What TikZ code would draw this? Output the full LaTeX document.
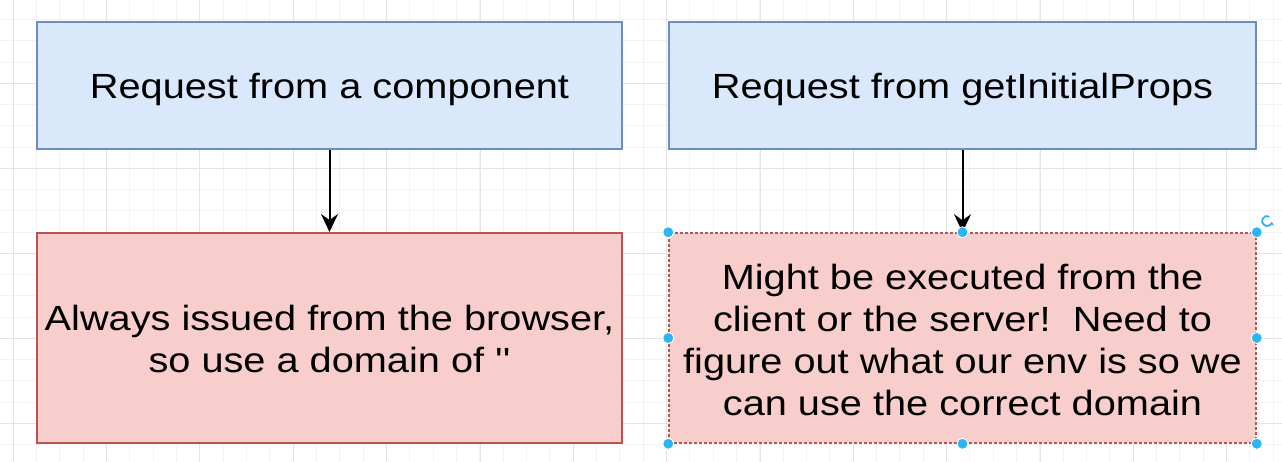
\documentclass[tikz,border=0pt]{standalone}
\usepackage{fontspec}
\setmainfont{Liberation Sans}
\newfontfamily\boxfont[FakeStretch=1.135]{Liberation Sans}
\usetikzlibrary{arrows.meta}
\definecolor{bluefill}{HTML}{DAE8FC}
\definecolor{blueline}{HTML}{6C8EBF}
\definecolor{redfill}{HTML}{F8CECC}
\definecolor{redline}{HTML}{B85450}
\definecolor{gridminor}{HTML}{F3F3F3}
\definecolor{gridmajor}{HTML}{E4E4E4}
\definecolor{handle}{HTML}{29B6F2}
\tikzset{
  gridminorline/.style={draw=gridminor, line width=1pt},
  gridmajorline/.style={draw=gridmajor, line width=1pt},
  bluebox/.style={draw=blueline, fill=bluefill, line width=2pt, inner sep=0pt},
  redbox/.style={draw=redline, fill=redfill, line width=2pt, inner sep=0pt},
  selbox/.style={draw=redline, fill=redfill, line width=1.5pt, dash pattern=on 3pt off 2pt, inner sep=0pt},
  boxtext/.style={font=\boxfont\fontsize{35}{42}\selectfont, align=center, text=black},
  flow/.style={draw=black, line width=2pt, -{Stealth[length=18pt, width=17pt, inset=6pt]}},
  handledot/.style={circle, fill=handle, draw=white, line width=0.8pt, minimum size=11pt, inner sep=0pt},
}
\begin{document}
\begin{tikzpicture}[x=1pt, y=-1pt]
\useasboundingbox (0,0) rectangle (1282,462);
\fill[white] (0,0) rectangle (1282,462);
% grid
\foreach \i in {0,...,54} {
  \draw[gridminorline] ({13.33+23.333*\i},0) -- ({13.33+23.333*\i},462);
}
\foreach \j in {0,...,20} {
  \draw[gridminorline] (0,{19.55+21.25*\j}) -- (1282,{19.55+21.25*\j});
}
\foreach \i in {0,...,13} {
  \draw[gridmajorline] ({13.33+93.333*\i},0) -- ({13.33+93.333*\i},462);
}
\foreach \j in {1,...,5} {
  \draw[gridmajorline] (0,{-1.7+85*\j}) -- (1282,{-1.7+85*\j});
}
% boxes
\node[bluebox, minimum width=585pt, minimum height=127pt] (comp) at (329.5,85.5) {};
\node[boxtext] at ([yshift=-4pt]comp.center) {Request from a component};
\node[bluebox, minimum width=587pt, minimum height=127pt] (gip) at (962.5,85.5) {};
\node[boxtext] at ([yshift=-4pt]gip.center) {Request from getInitialProps};
\node[redbox, minimum width=585pt, minimum height=210pt] (browser) at (329.5,338) {};
\node[boxtext] at ([yshift=-1pt]browser.center) {Always issued from the browser,\\so use a domain of ''};
\node[selbox, minimum width=587pt, minimum height=210pt] (env) at (962.5,338) {};
\node[boxtext] at ([yshift=-2pt]env.center) {Might be executed from the\\client or the server!~~Need to\\figure out what our env is so we\\can use the correct domain};
% connectors
\draw[flow] (comp.south) -- (browser.north);
\draw[flow] (gip.south) -- (env.north);
% selection handles
\foreach \a in {north west, north, north east, west, east, south west, south, south east} {
  \node[handledot] at (env.\a) {};
}
\coordinate (rot) at (1267,221);
\draw[handle, line width=1.8pt, -{Stealth[length=3.5pt, width=5pt]}] ([shift={(60:5pt)}]rot) arc[start angle=60, end angle=350, radius=5pt];
\end{tikzpicture}
\end{document}
